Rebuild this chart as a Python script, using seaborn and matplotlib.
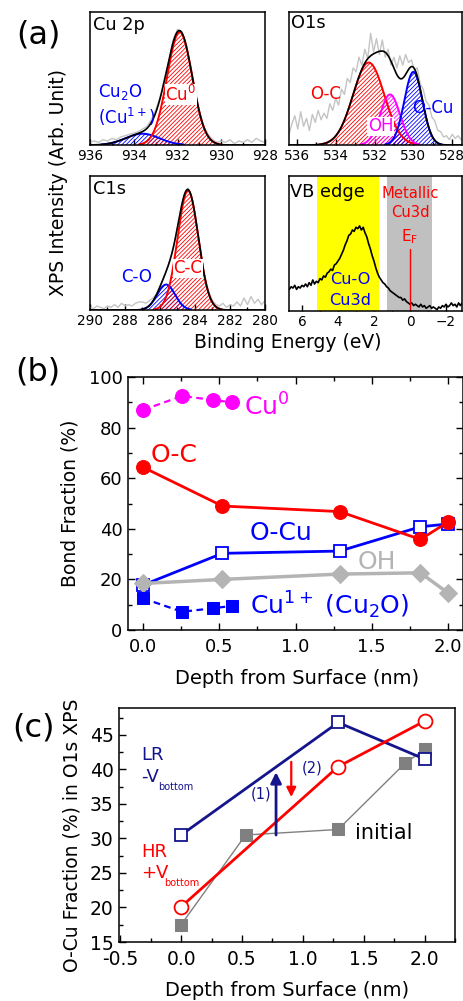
import numpy as np
import matplotlib
matplotlib.use('Agg')
import matplotlib.pyplot as plt
import seaborn as sns
from matplotlib.ticker import MultipleLocator

sns.set_theme(style='ticks')
plt.rcParams['font.family'] = ['DejaVu Sans']
plt.rcParams['mathtext.default'] = 'regular'
plt.rcParams['hatch.linewidth'] = 0.6
plt.rcParams['axes.linewidth'] = 1.1
plt.rcParams['axes.edgecolor'] = 'black'
plt.rcParams['text.color'] = 'black'
plt.rcParams['axes.labelcolor'] = 'black'
plt.rcParams['xtick.color'] = 'black'
plt.rcParams['ytick.color'] = 'black'

# ---------------- (a) XPS spectra ----------------
# fitted components: centre (eV), FWHM (eV), height (a.u.)
cu0_peak = [931.9, 1.35, 0.85]
cu2o_peak = [933.6, 1.8, 0.085]
cu_tail_peak = [932.8, 0.9, 0.05]
oc_peak = [532.3, 1.9, 0.62]
oh_peak = [531.2, 1.2, 0.38]
ocu_peak = [530.0, 1.1, 0.55]
cc_peak = [284.4, 1.4, 0.89]
co_peak = [285.65, 1.2, 0.19]

# raw (grey) spectra
cu2p_raw = [0.02, 0.03, 0.02, 0.04, 0.03, 0.05, 0.04, 0.06, 0.07, 0.08, 0.09, 0.10,
            0.12, 0.14, 0.19, 0.26, 0.36, 0.50, 0.63, 0.79, 0.87, 0.85, 0.76, 0.60,
            0.42, 0.26, 0.14, 0.08, 0.04, 0.02, 0.03, 0.02, 0.04, 0.01, 0.03, 0.02,
            0.04, 0.02, 0.05, 0.03, 0.02]
o1s_raw = [0.08, 0.16, 0.22, 0.12, 0.25, 0.14, 0.20, 0.11, 0.23, 0.17, 0.26, 0.19,
           0.24, 0.20, 0.31, 0.26, 0.35, 0.30, 0.42, 0.38, 0.50, 0.47, 0.58, 0.55,
           0.66, 0.60, 0.72, 0.65, 0.84, 0.70, 0.80, 0.68, 0.79, 0.66, 0.72, 0.60,
           0.66, 0.58, 0.67, 0.60, 0.68, 0.62, 0.64, 0.56, 0.58, 0.46, 0.42, 0.33,
           0.30, 0.21, 0.18, 0.11, 0.10, 0.06, 0.07, 0.04, 0.08, 0.05, 0.07, 0.04]
c1s_raw = [0.02, 0.01, 0.03, 0.02, 0.01, 0.03, 0.02, 0.04, 0.02, 0.05, 0.03, 0.04,
           0.03, 0.05, 0.06, 0.06, 0.05, 0.07, 0.09, 0.12, 0.18, 0.24, 0.31, 0.39,
           0.49, 0.62, 0.76, 0.86, 0.91, 0.85, 0.72, 0.54, 0.37, 0.23, 0.13, 0.07,
           0.04, 0.03, 0.05, 0.02, 0.04, 0.03, 0.06, 0.03, 0.09, 0.04, 0.10, 0.05,
           0.08, 0.04, 0.07]
vb_raw = [0.16, 0.18, 0.17, 0.19, 0.16, 0.18, 0.17, 0.19, 0.18, 0.20, 0.18, 0.21,
          0.19, 0.23, 0.20, 0.22, 0.21, 0.24, 0.23, 0.26, 0.25, 0.28, 0.29, 0.31,
          0.30, 0.34, 0.35, 0.37, 0.39, 0.42, 0.45, 0.49, 0.52, 0.56, 0.57, 0.60,
          0.59, 0.62, 0.61, 0.63, 0.60, 0.62, 0.58, 0.55, 0.50, 0.46, 0.41, 0.37,
          0.32, 0.28, 0.25, 0.23, 0.21, 0.20, 0.18, 0.17, 0.15, 0.14, 0.13, 0.12,
          0.11, 0.10, 0.10, 0.08, 0.09, 0.07, 0.06, 0.05, 0.06, 0.04, 0.05, 0.04,
          0.03, 0.05, 0.03, 0.04, 0.02, 0.03, 0.04, 0.02, 0.03, 0.02, 0.01, 0.03,
          0.02, 0.04, 0.03, 0.05, 0.03, 0.04, 0.06, 0.04, 0.05, 0.03, 0.06, 0.04,
          0.06]
cu2p_range = [936.0, 928.0]
o1s_range = [536.4, 527.55]
c1s_range = [290.0, 280.0]
vb_range = [6.7, -2.9]

# ---------------- (b) bond fraction ----------------
depth_cu = [0.0, 0.255, 0.46, 0.58]
cu0_frac = [87.0, 92.5, 90.9, 90.0]
cu1_frac = [12.5, 7.2, 8.6, 9.5]
depth_o = [0.0, 0.52, 1.29, 1.82, 2.0]
oc_frac = [64.3, 49.0, 46.8, 35.8, 42.6]
ocu_frac = [17.8, 30.3, 31.2, 40.8, 41.9]
oh_frac = [18.4, 20.0, 22.1, 22.6, 14.7]

# ---------------- (c) O-Cu fraction ----------------
depth_state = [0.0, 1.29, 2.0]
lr_frac = [30.5, 46.8, 41.5]
hr_frac = [20.1, 40.4, 47.0]
depth_init = [0.0, 0.53, 1.29, 1.84, 2.0]
init_frac = [17.5, 30.5, 31.3, 40.9, 42.9]

W, H = 464, 1001
fig = plt.figure(figsize=(W / 100, H / 100), dpi=100)


def box(x0, y0, x1, y1):
    return [x0 / W, 1 - y1 / H, (x1 - x0) / W, (y1 - y0) / H]


def gauss(x, peak):
    c, w, h = peak
    return h * np.exp(-4 * np.log(2) * (x - c) ** 2 / w ** 2)


def spectrum(ax, xr, raw, peaks, colors, hidden=()):
    rx = np.linspace(xr[0], xr[1], len(raw))
    sns.lineplot(x=rx, y=raw, ax=ax, color='#c4c4c4', lw=1, estimator=None, sort=False)
    xs = np.linspace(xr[0], xr[1], 500)
    total = np.zeros_like(xs)
    for p, c in zip(peaks, colors):
        y = gauss(xs, p)
        total += y
        ax.fill_between(xs, 0, y, facecolor='none', edgecolor=c, hatch='////////', lw=0)
        ax.plot(xs, np.where(y > 0.004, y, np.nan), color=c, lw=1.4)
    for p in hidden:
        total += gauss(xs, p)
    ax.plot(xs, total, color='black', lw=1.2)


def style_a(ax, xlim, step):
    ax.set_xlim(*xlim)
    ax.set_ylim(0, 1)
    ax.set_yticks([])
    ax.xaxis.set_major_locator(MultipleLocator(step))
    ax.xaxis.set_minor_locator(MultipleLocator(step / 2))
    ax.tick_params(axis='x', which='major', direction='in', length=4, width=1,
                   labelsize=9.8, pad=3)
    ax.tick_params(axis='x', which='minor', direction='in', length=2, width=1)


lab = dict(fontsize=12, va='center', ha='left')

# Cu 2p
ax1 = fig.add_axes(box(90, 12, 265, 145))
spectrum(ax1, cu2p_range, cu2p_raw, [cu2o_peak, cu0_peak], ['blue', 'red'], [cu_tail_peak])
style_a(ax1, (936, 928), 2)
ax1.text(0.017, 0.90, 'Cu 2p', transform=ax1.transAxes, fontsize=12.8, va='center')
ax1.text(0.046, 0.40, 'Cu$_2$O', transform=ax1.transAxes, color='blue', **lab)
ax1.text(0.046, 0.21, '(Cu$^{1+}$)', transform=ax1.transAxes, color='blue', **lab)
ax1.text(0.43, 0.38, 'Cu$^0$', transform=ax1.transAxes, color='red',
         bbox=dict(facecolor='white', edgecolor='none', pad=0.5), **lab)

# O1s
ax2 = fig.add_axes(box(289, 12, 462, 145))
spectrum(ax2, o1s_range, o1s_raw, [oc_peak, oh_peak, ocu_peak], ['red', 'magenta', 'blue'])
style_a(ax2, (536.4, 527.5), 2)
ax2.text(0.012, 0.92, 'O1s', transform=ax2.transAxes, fontsize=12.8, va='center')
ax2.text(0.125, 0.38, 'O-C', transform=ax2.transAxes, color='red', **lab)
ax2.text(0.457, 0.14, 'OH', transform=ax2.transAxes, color='magenta',
         bbox=dict(facecolor='white', edgecolor='none', pad=0.5), **lab)
ax2.text(0.71, 0.28, 'O-Cu', transform=ax2.transAxes, color='blue', **lab)

# C1s
ax3 = fig.add_axes(box(90, 176, 265, 310))
spectrum(ax3, c1s_range, c1s_raw, [co_peak, cc_peak], ['blue', 'red'])
style_a(ax3, (290, 280), 2)
ax3.text(0.017, 0.90, 'C1s', transform=ax3.transAxes, fontsize=12.8, va='center')
ax3.text(0.18, 0.25, 'C-O', transform=ax3.transAxes, color='blue', **lab)
ax3.text(0.476, 0.31, 'C-C', transform=ax3.transAxes, color='red',
         bbox=dict(facecolor='white', edgecolor='none', pad=0.5), **lab)

# VB
ax4 = fig.add_axes(box(289, 176, 462, 311))
ax4.axvspan(5.17, 1.72, color='#ffff00', lw=0)
ax4.axvspan(1.28, -1.22, color='#c0c0c0', lw=0)
sns.lineplot(x=np.linspace(vb_range[0], vb_range[1], len(vb_raw)), y=vb_raw, ax=ax4,
             color='black', lw=1.2, estimator=None, sort=False)
ax4.plot([0, 0], [0, 0.46], color='red', lw=1)
style_a(ax4, (6.72, -2.89), 2)
ax4.text(0.006, 0.88, 'VB edge', transform=ax4.transAxes, fontsize=12.8, va='center')
ax4.text(0, 0.87, 'Metallic', color='red', fontsize=10.6, ha='center', va='center',
         transform=ax4.get_xaxis_transform())
ax4.text(0, 0.73, 'Cu3d', color='red', fontsize=10.6, ha='center', va='center',
         transform=ax4.get_xaxis_transform())
ax4.text(0, 0.55, 'E$_F$', color='red', fontsize=11, ha='center', va='center',
         transform=ax4.get_xaxis_transform())
ax4.text(3.33, 0.23, 'Cu-O', color='blue', fontsize=11.6, ha='center', va='center',
         transform=ax4.get_xaxis_transform())
ax4.text(3.33, 0.08, 'Cu3d', color='blue', fontsize=11.6, ha='center', va='center',
         transform=ax4.get_xaxis_transform())

fig.text(38 / W, 1 - 35 / H, '(a)', fontsize=23, ha='center', va='center')
fig.text(59 / W, 1 - 183 / H, 'XPS Intensity (Arb. Unit)', rotation=90, fontsize=13.5,
         ha='center', va='center')
fig.text(288 / W, 1 - 342 / H, 'Binding Energy (eV)', fontsize=13.5, ha='center', va='center')


def style_bc(ax, mirror):
    ax.tick_params(which='both', direction='in', top=mirror, right=mirror, width=1,
                   labelsize=13)
    ax.tick_params(which='major', length=5)
    ax.tick_params(which='minor', length=3)
    ax.tick_params(axis='x', pad=6)
    ax.tick_params(axis='y', pad=4)


# ---------------- (b) ----------------
axb = fig.add_axes(box(128, 377, 463, 630))
sns.lineplot(x=depth_cu, y=cu0_frac, ax=axb, color='magenta', lw=1.6, linestyle=(0, (3, 2)),
             marker='o', ms=10, mec='magenta', estimator=None, sort=False)
sns.lineplot(x=depth_o, y=ocu_frac, ax=axb, color='blue', lw=2, marker='s', ms=9,
             mfc='white', mec='blue', mew=1.3, estimator=None, sort=False)
sns.lineplot(x=depth_o, y=oh_frac, ax=axb, color='#b4b4b4', lw=2.5, marker='D', ms=9,
             mec='#b4b4b4', estimator=None, sort=False)
sns.lineplot(x=depth_o, y=oc_frac, ax=axb, color='red', lw=2, marker='o', ms=10,
             mec='red', estimator=None, sort=False)
sns.lineplot(x=depth_cu, y=cu1_frac, ax=axb, color='blue', lw=1.6, linestyle=(0, (3, 2)),
             marker='s', ms=9, mec='blue', estimator=None, sort=False)
axb.set_xlim(-0.1, 2.1)
axb.set_ylim(0, 100)
axb.xaxis.set_major_locator(MultipleLocator(0.5))
axb.xaxis.set_minor_locator(MultipleLocator(0.25))
axb.yaxis.set_major_locator(MultipleLocator(20))
axb.yaxis.set_minor_locator(MultipleLocator(10))
axb.xaxis.set_major_formatter(matplotlib.ticker.FormatStrFormatter('%.1f'))
style_bc(axb, True)
axb.set_xlabel('')
axb.set_ylabel('')
tb = dict(fontsize=18, va='center', ha='left')
axb.text(0.66, 88.1, 'Cu$^0$', color='magenta', **tb)
axb.text(0.046, 69.2, 'O-C', color='red', **tb)
axb.text(0.70, 38.3, 'O-Cu', color='blue', **tb)
axb.text(1.41, 26.9, 'OH', color='#b4b4b4', **tb)
axb.text(0.70, 9.9, 'Cu$^{1+}$ (Cu$_2$O)', color='blue', **tb)

fig.text(38 / W, 1 - 372 / H, '(b)', fontsize=23, ha='center', va='center')
fig.text(70 / W, 1 - 503 / H, 'Bond Fraction (%)', rotation=90, fontsize=13.5,
         ha='center', va='center')
fig.text(297 / W, 1 - 678 / H, 'Depth from Surface (nm)', fontsize=14, ha='center', va='center')

# ---------------- (c) ----------------
navy = '#14148c'
axc = fig.add_axes(box(119, 708, 455, 942))
sns.lineplot(x=depth_init, y=init_frac, ax=axc, color='#808080', lw=1, marker='s', ms=8,
             mec='#808080', estimator=None, sort=False)
sns.lineplot(x=depth_state, y=lr_frac, ax=axc, color=navy, lw=2, marker='s', ms=9,
             mfc='white', mec=navy, mew=1.3, estimator=None, sort=False)
sns.lineplot(x=depth_state, y=hr_frac, ax=axc, color='red', lw=2, marker='o', ms=10,
             mfc='white', mec='red', mew=1.3, estimator=None, sort=False)
axc.annotate('', xy=(0.78, 39.6), xytext=(0.78, 30.5),
             arrowprops=dict(arrowstyle='-|>', color=navy, lw=2, mutation_scale=16,
                             shrinkA=0, shrinkB=0))
axc.annotate('', xy=(0.905, 36.0), xytext=(0.905, 41.1),
             arrowprops=dict(arrowstyle='-|>', color='red', lw=1.6, mutation_scale=14,
                             shrinkA=0, shrinkB=0))
axc.set_xlim(-0.51, 2.25)
axc.set_ylim(15, 48.9)
axc.xaxis.set_major_locator(MultipleLocator(0.5))
axc.xaxis.set_minor_locator(MultipleLocator(0.25))
axc.yaxis.set_major_locator(MultipleLocator(5))
axc.yaxis.set_minor_locator(MultipleLocator(2.5))
axc.xaxis.set_major_formatter(matplotlib.ticker.FormatStrFormatter('%.1f'))
style_bc(axc, False)
axc.tick_params(labelsize=13.5, axis='both')
axc.tick_params(axis='x', pad=6)
axc.set_xlabel('')
axc.set_ylabel('')
axc.text(0.66, 36.4, '(1)', color=navy, fontsize=10.5, ha='center', va='center')
axc.text(1.08, 40.2, '(2)', color=navy, fontsize=10.5, ha='center', va='center')
axc.text(-0.33, 42.1, 'LR', color=navy, fontsize=13, ha='left', va='center')
axc.text(-0.33, 38.9, '-V', color=navy, fontsize=13, ha='left', va='center')
axc.text(-0.19, 37.5, 'bottom', color=navy, fontsize=7, ha='left', va='center')
axc.text(-0.33, 28.0, 'HR', color='red', fontsize=13, ha='left', va='center')
axc.text(-0.33, 25.0, '+V', color='red', fontsize=13, ha='left', va='center')
axc.text(-0.14, 23.55, 'bottom', color='red', fontsize=7, ha='left', va='center')
axc.text(1.43, 30.8, 'initial', color='black', fontsize=15, ha='left', va='center')

fig.text(34 / W, 1 - 728 / H, '(c)', fontsize=23, ha='center', va='center')
fig.text(72 / W, 1 - 835 / H, 'O-Cu Fraction (%) in O1s XPS', rotation=90, fontsize=13.5,
         ha='center', va='center')
fig.text(287 / W, 1 - 990 / H, 'Depth from Surface (nm)', fontsize=14, ha='center', va='center')

fig.savefig('out.png', dpi=100)
